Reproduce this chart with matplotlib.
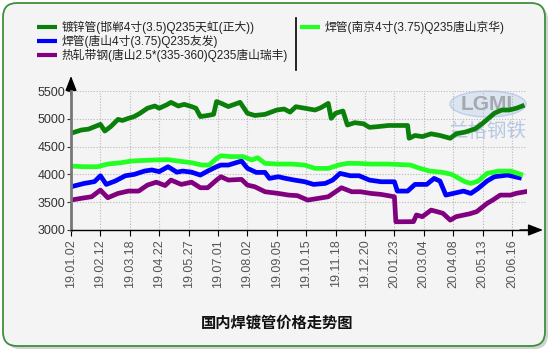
import matplotlib
matplotlib.use("Agg")
import matplotlib.pyplot as plt
from matplotlib.patches import FancyBboxPatch, Ellipse

plt.rcParams['font.family'] = ['Liberation Sans', 'Noto Sans CJK SC', 'DejaVu Sans']

# tick labels (one every 20 trading days)
tick_labels = ["19.01.02", "19.02.12", "19.03.18", "19.04.22", "19.05.27", "19.07.01",
               "19.08.02", "19.09.05", "19.10.15", "19.11.18", "19.12.20", "20.01.23",
               "20.03.04", "20.04.08", "20.05.13", "20.06.16"]
tick_pos = [i * 20 for i in range(len(tick_labels))]

names = ["镀锌管(邯郸4寸(3.5)Q235天虹(正大))",
         "焊管(唐山4寸(3.75)Q235友发)",
         "热轧带钢(唐山2.5*(335-360)Q235唐山瑞丰)",
         "焊管(南京4寸(3.75)Q235唐山京华)"]
colors = ["#0a800a", "#0000ff", "#800080", "#22ff22"]

# galvanized pipe, Handan
galv_x = [0, 7, 12, 20, 23, 27, 32, 35, 39, 43, 47, 52, 57, 60, 65, 68, 73, 77, 82, 85,
          88, 93, 97, 99, 102, 107, 115, 120, 125, 132, 140, 145, 149, 153, 159, 166, 170,
          175, 177, 180, 185, 188, 193, 199, 203, 209, 216, 229, 230, 234, 239, 245, 251,
          258, 262, 268, 275, 280, 284, 288, 293, 298, 303, 307]
galv_y = [4740, 4798, 4815, 4900, 4780, 4860, 4990, 4970, 5008, 5040, 5100, 5190, 5230,
          5190, 5250, 5296, 5230, 5260, 5220, 5190, 5040, 5060, 5080, 5310, 5280, 5220,
          5296, 5100, 5060, 5080, 5158, 5176, 5120, 5218, 5190, 5158, 5200, 5278, 5008,
          5100, 5140, 4888, 4930, 4910, 4846, 4860, 4880, 4880, 4650, 4700, 4680, 4730,
          4700, 4650, 4730, 4760, 4820, 4918, 5008, 5100, 5158, 5158, 5190, 5230]

# welded pipe, Tangshan
ts_x = [0, 9, 16, 20, 24, 30, 37, 43, 50, 55, 60, 66, 72, 76, 82, 88, 93, 99, 102, 107,
        116, 120, 126, 132, 135, 141, 146, 152, 159, 165, 173, 178, 183, 190, 196, 203,
        211, 220, 222, 229, 234, 242, 247, 251, 255, 260, 267, 272, 277, 283, 288, 297, 305]
ts_y = [3778, 3838, 3870, 3976, 3820, 3880, 3976, 4000, 4060, 4080, 4050, 4138, 4040,
        4060, 4040, 3988, 4060, 4138, 4168, 4168, 4240, 4110, 4036, 4036, 3928, 3958,
        3928, 3898, 3868, 3820, 3838, 3898, 4018, 3976, 3976, 3898, 3868, 3868, 3700,
        3700, 3820, 3820, 3928, 3880, 3628, 3658, 3700, 3658, 3748, 3880, 3958, 3988, 3940]

# hot rolled strip, Tangshan
strip_x = [0, 7, 14, 20, 25, 32, 39, 46, 52, 58, 64, 68, 75, 82, 88, 93, 99, 102, 107,
           116, 120, 125, 132, 141, 148, 154, 161, 168, 175, 184, 191, 197, 204, 211, 220,
           221, 233, 235, 239, 245, 249, 253, 258, 262, 267, 271, 276, 283, 287, 292, 299,
           303, 309]
strip_y = [3538, 3570, 3598, 3718, 3580, 3658, 3700, 3700, 3808, 3860, 3800, 3898, 3820,
           3860, 3760, 3760, 3898, 3958, 3898, 3910, 3808, 3778, 3688, 3658, 3628, 3618,
           3538, 3568, 3598, 3760, 3688, 3688, 3658, 3640, 3598, 3148, 3150, 3270, 3240,
           3358, 3330, 3300, 3178, 3240, 3268, 3290, 3330, 3478, 3540, 3628, 3628, 3660, 3688]

# welded pipe, Nanjing
nj_x = [0, 9, 18, 25, 34, 41, 48, 57, 66, 73, 82, 89, 94, 99, 102, 109, 117, 123, 127,
        132, 141, 150, 159, 166, 175, 182, 188, 195, 204, 216, 231, 236, 244, 252, 259,
        268, 272, 277, 283, 291, 299, 306]
nj_y = [4150, 4138, 4138, 4186, 4210, 4240, 4250, 4260, 4265, 4240, 4210, 4168, 4168,
        4288, 4336, 4320, 4320, 4260, 4300, 4198, 4186, 4186, 4168, 4108, 4108, 4168,
        4198, 4198, 4186, 4186, 4168, 4120, 4060, 4040, 4000, 3868, 3838, 3880, 4018,
        4060, 4060, 4000]

series = [(galv_x, galv_y), (ts_x, ts_y), (strip_x, strip_y), (nj_x, nj_y)]

W, H = 555, 353
fig = plt.figure(figsize=(W / 100, H / 100), dpi=100)
fig.patch.set_facecolor("white")

# background layer in pixel coords
bg = fig.add_axes([0, 0, 1, 1])
bg.set_xlim(0, W)
bg.set_ylim(H, 0)
bg.axis("off")
bg.add_patch(FancyBboxPatch((6, 6), 542, 343, boxstyle="round,pad=0,rounding_size=14",
                            facecolor="#b5b5b5", edgecolor="none", alpha=0.6))
bg.add_patch(FancyBboxPatch((3, 3), 542, 343, boxstyle="round,pad=0,rounding_size=14",
                            facecolor="#f4f4f4", edgecolor="#3f8f3f", linewidth=1.3))

# legend
leg_rows = [(37, 27, 0), (37, 41, 1), (37, 55, 2), (300, 27, 3)]
for lx, ly, k in leg_rows:
    bg.plot([lx, lx + 20], [ly, ly], color=colors[k], lw=3, solid_capstyle="butt")
    bg.text(lx + 25, ly, names[k], fontsize=8.5, va="center", ha="left", color="#222222")
bg.plot([296, 296], [18, 70], color="black", lw=1.2)

# watermark
bg.add_patch(Ellipse((488, 104), 76, 26, facecolor="#c8d8ef", edgecolor="#9fb8e0", alpha=0.55))
bg.text(487, 104, "LGMI", fontsize=15, color="#9a9a9a", ha="center", va="center",
        fontweight="bold", alpha=0.8)
bg.text(488, 132, "兰格钢铁", fontsize=14, color="#a8bde0", ha="center", va="center", alpha=0.8)

# title
bg.text(277, 323, "国内焊镀管价格走势图", fontsize=11, fontweight="bold", ha="center",
        va="center", color="#111111")

# axis arrows
bg.annotate("", xy=(543, 230), xytext=(520, 230),
            arrowprops=dict(arrowstyle="-|>,head_length=0.9,head_width=0.35", color="black",
                            lw=1, shrinkA=0, shrinkB=0))
bg.annotate("", xy=(71, 76), xytext=(71, 95),
            arrowprops=dict(arrowstyle="-|>,head_length=0.9,head_width=0.35", color="black",
                            lw=1, shrinkA=0, shrinkB=0))

# main plot
x0, x1 = 71, 71 + 310 * 1.47
ax = fig.add_axes([x0 / W, (H - 230) / H, (x1 - x0) / W, 139 / H])
ax.set_facecolor("none")
for (xs, ys), c in zip(series, colors):
    ax.plot(xs, ys, color=c, lw=3.4, solid_joinstyle="round")
ax.set_xlim(0, 310)
ax.set_ylim(3000, 5500)
ax.set_xticks(tick_pos)
ax.set_xticklabels(tick_labels, rotation=90, fontsize=9, color="#555555")
ax.set_yticks([3000, 3500, 4000, 4500, 5000, 5500])
ax.tick_params(axis="y", labelsize=9, colors="#333333", length=3, pad=1)
ax.tick_params(axis="x", length=4, color="black", pad=3)
ax.grid(True, color="#b8b8b8", linestyle=(0, (1, 1.5)), linewidth=0.8)
ax.set_axisbelow(True)
for s in ["top", "right"]:
    ax.spines[s].set_visible(False)
ax.spines["left"].set_color("#777777")
ax.spines["left"].set_linewidth(2)
ax.spines["bottom"].set_color("black")
ax.spines["bottom"].set_linewidth(1)

fig.savefig("out.png", dpi=100)
